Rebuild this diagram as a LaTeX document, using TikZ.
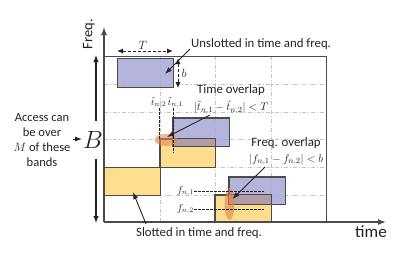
\documentclass[tikz,border=0pt]{standalone}
\usepackage{fontspec}
\setmainfont{Carlito}
\usetikzlibrary{arrows.meta,shapes.geometric}
\definecolor{ublue}{RGB}{170,170,216}
\definecolor{yfill}{RGB}{255,221,143}
\definecolor{boxdraw}{RGB}{75,75,75}
\definecolor{ovlp}{RGB}{178,156,168}
\definecolor{orel}{RGB}{226,132,82}
\definecolor{gridgray}{RGB}{195,195,195}
\definecolor{txt}{RGB}{35,35,35}
\tikzset{
  ublk/.style={rectangle,fill=ublue,draw=boxdraw,line width=0.9pt,inner sep=0,fill opacity=0.88,draw opacity=1},
  yblk/.style={rectangle,fill=yfill,draw=boxdraw,line width=0.9pt,inner sep=0},
  gridl/.style={draw=gridgray,line width=0.6pt,dash pattern=on 4pt off 2pt on 1pt off 2pt},
  lbl/.style={inner sep=0,text=txt,font=\fontsize{12.8}{15}\selectfont},
  mlbl/.style={inner sep=0,text=txt,font=\fontsize{11}{13}\selectfont},
  callout/.style={-{Latex[length=7pt,width=5pt]},line width=0.9pt,draw=txt},
  dimarr/.style={{Latex[length=6pt,width=5pt]}-{Latex[length=6pt,width=5pt]},line width=0.9pt,draw=txt,dash pattern=on 3pt off 2pt},
  axisl/.style={-{Latex[length=8pt,width=6pt]},line width=1.3pt,draw=boxdraw},
  barrow/.style={-{Latex[length=7pt,width=5.5pt]},line width=1.1pt,draw=txt},
  guide/.style={draw=txt,line width=0.6pt,dash pattern=on 2.5pt off 1.5pt},
  hl/.style={fill=orel,fill opacity=0.6}
}
\begin{document}
\begin{tikzpicture}[x=1pt,y=-1pt]
\useasboundingbox (0,0) rectangle (415,255);
% grid
\foreach \yy in {84,112,139,167,195}{\draw[gridl] (104,\yy) -- (326,\yy);}
\foreach \xx in {160,215,271}{\draw[gridl] (\xx,56) -- (\xx,222);}
% frame
\draw[boxdraw,line width=0.9pt] (104,56) -- (326,56) -- (326,222);
% slotted boxes
\node[yblk,minimum width=56pt,minimum height=28pt] (s1) at (132,181) {};
\node[yblk,minimum width=55pt,minimum height=28pt] (s2) at (187.5,153) {};
\node[yblk,minimum width=56pt,minimum height=27pt] (s3) at (243,208.5) {};
% unslotted boxes
\node[ublk,minimum width=56pt,minimum height=29pt] (uA) at (145,72.5) {};
\node[ublk,minimum width=56pt,minimum height=28pt] (uB) at (201,132) {};
\node[ublk,minimum width=56pt,minimum height=27pt] (uC) at (257,190.5) {};
% overlaps
\fill[ovlp] (s2.north west -| uB.west) rectangle (uB.south east -| s2.east);
\fill[ovlp] (s3.north west -| uC.west) rectangle (uC.south east -| s3.east);
\draw[boxdraw,line width=0.9pt] (s2.north west) rectangle (s2.south east);
\draw[boxdraw,line width=0.9pt] (uB.north west) rectangle (uB.south east);
\draw[boxdraw,line width=0.9pt] (s3.north west) rectangle (s3.south east);
\draw[boxdraw,line width=0.9pt] (uC.north west) rectangle (uC.south east);
% axes
\coordinate (O) at (104,222);
\coordinate (ytip) at (104,27);
\coordinate (xtip) at (386,222);
\draw[axisl] (O) -- (ytip);
\draw[axisl] (O) -- (xtip);
\node[lbl,font=\fontsize{14.5}{16}\selectfont,rotate=90] (freq) at (89,34) {Freq.};
\node[lbl,font=\fontsize{17}{18}\selectfont] (time) at (371,232) {time};
% dimension T and b
\coordinate (Ta) at (117,51);
\coordinate (Tb) at (173,51);
\draw[dimarr] (Ta) -- (Tb);
\node[mlbl,font=\fontsize{12.5}{14}\selectfont] (Tl) at (143,45) {$T$};
\coordinate (ba) at (178,58);
\coordinate (bb) at (178,88);
\draw[dimarr] (ba) -- (bb);
\node[mlbl,font=\fontsize{12.5}{14}\selectfont] (bl) at (184,73) {$b$};
% highlights
\coordinate (ov1) at (166,140);
\coordinate (ov2) at (229.5,204);
\fill[hl] (ov1) ellipse [x radius=11.5, y radius=6];
\fill[hl] (ov2) ellipse [x radius=5, y radius=16];
% time guides
\node[mlbl,font=\fontsize{9.3}{11}\selectfont] (tn2) at (158.8,103) {$\tilde t_{n,2}$};
\node[mlbl,font=\fontsize{9.3}{11}\selectfont] (tn1) at (175.5,103) {$\tilde t_{n,1}$};
\coordinate (tn2e) at (159.5,139);
\coordinate (tn1e) at (173,153);
\draw[guide] (tn2.south -| tn2e) -- (tn2e);
\draw[guide] (tn2.south -| tn1e) -- (tn1e);
% freq guides
\node[mlbl,font=\fontsize{10}{11}\selectfont,anchor=east] (fn1) at (194,191) {$f_{n,1}$};
\node[mlbl,font=\fontsize{10}{11}\selectfont,anchor=east] (fn2) at (194,209) {$f_{n,2}$};
\coordinate (fn1e) at (264,191);
\coordinate (fn2e) at (264,209);
\draw[guide] (fn1.east) -- (fn1e);
\draw[guide] (fn2.east) -- (fn2e);
% labels and callouts
\node[lbl,anchor=west] (unsl) at (191,44) {Unslotted in time and freq.};
\coordinate (ua) at (165,74);
\draw[callout] ([shift={(-1,5)}]unsl.west) -- (ua);
\node[lbl] (tov) at (231,90) {Time overlap};
\node[mlbl] (tform) at (231,107.5) {$|\tilde t_{n,1}-\tilde t_{n,2}|<T$};
\draw[callout] (210,115) -- ([shift={(1,-3)}]ov1);
\node[lbl] (fov) at (286,143) {Freq. overlap};
\node[mlbl] (fform) at (286,159.5) {$|f_{n,1}-f_{n,2}|<b$};
\draw[callout] (265,167) -- ([shift={(3,-5)}]ov2);
\node[lbl] (slotl) at (199,233) {Slotted in time and freq.};
\coordinate (s1a) at (133,192);
\draw[callout] (146,224) -- (s1a);
% bandwidth B
\node[lbl,align=center,font=\fontsize{12.5}{15}\selectfont] (acc) at (42,140) {Access can\\be over\\$M$ of these\\bands};
\node[inner sep=0,text=txt,font=\fontsize{25}{26}\selectfont,minimum height=38pt] (Bl) at (93,140) {$B$};
\coordinate (Btop) at (96,55);
\coordinate (Bbot) at (96,223);
\draw[barrow] (Bl.north -| Btop) -- (Btop);
\draw[barrow] (Bl.south -| Bbot) -- (Bbot);
\draw[callout] (73,139) -- (82,139);
\end{tikzpicture}
\end{document}
